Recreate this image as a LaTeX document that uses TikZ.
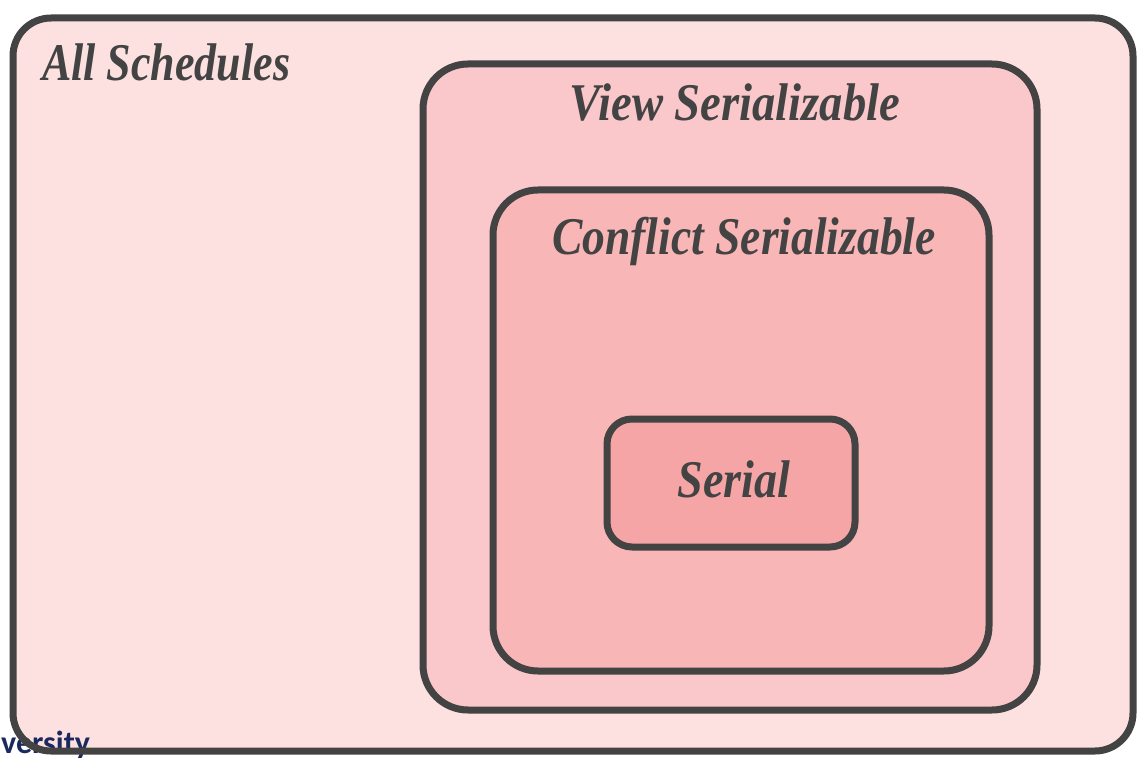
\documentclass[tikz,border=0pt]{standalone}
\usepackage{fontspec}
\usepackage{graphicx}
\setmainfont{Liberation Serif}
\newfontfamily\footerfont{Carlito}
\definecolor{edge}{HTML}{434343}
\definecolor{allfill}{HTML}{FDE0E0}
\definecolor{viewfill}{HTML}{FAC8CA}
\definecolor{conffill}{HTML}{F8B6B7}
\definecolor{serfill}{HTML}{F6A5A6}
\definecolor{navy}{HTML}{1B2A5E}
\newcommand{\setlabel}[2][0.87]{\scalebox{#1}[1]{\fontsize{53}{60}\selectfont\bfseries\itshape #2}}
\begin{document}
\begin{tikzpicture}[x=1pt,y=-1pt,
  setbox/.style={rectangle, draw=edge, line width=7pt, inner sep=0pt, outer sep=0pt},
  settext/.style={text=edge, inner sep=0pt, anchor=base}]
\useasboundingbox[fill=white] (0,0) rectangle (1144,762);
% outermost set: fill first, footer text, then its border on top
\node[rectangle, fill=allfill, inner sep=0pt, outer sep=0pt, rounded corners=38pt,
      minimum width=1120pt, minimum height=733pt] (all) at (573,384.5) {};
\node[anchor=base west, inner sep=0pt, text=navy] (footer) at (1,753)
  {\footerfont\fontsize{32}{34}\selectfont\bfseries versity};
\draw[edge, line width=7pt, rounded corners=38pt] (all.north west) rectangle (all.south east);
% nested sets
\node[setbox, fill=viewfill, rounded corners=45pt, minimum width=614pt, minimum height=646pt] (view) at (730,387) {};
\node[setbox, fill=conffill, rounded corners=45pt, minimum width=496pt, minimum height=481pt] (conf) at (741,430.5) {};
\node[setbox, fill=serfill, rounded corners=25pt, minimum width=248pt, minimum height=128pt] (serial) at (731,483) {};
% set labels
\node[settext, anchor=base west] (allT) at (42,81) {\setlabel[0.83]{All Schedules}};
\node[settext] (viewT) at (735,121) {\setlabel[0.88]{View Serializable}};
\node[settext] (confT) at (744,255) {\setlabel[0.86]{Conflict Serializable}};
\node[settext] (serT) at (734,497) {\setlabel[0.87]{Serial}};
\end{tikzpicture}
\end{document}
